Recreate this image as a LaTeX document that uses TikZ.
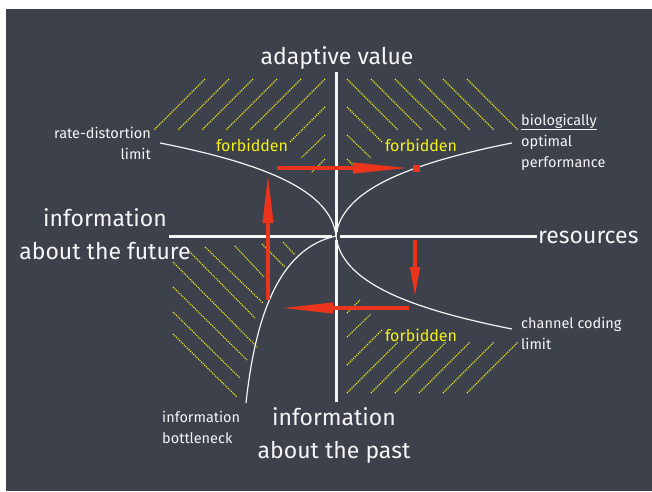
\documentclass[tikz,border=0pt]{standalone}
\usepackage{fontspec}
\setmainfont{Fira Sans}
\usetikzlibrary{arrows.meta}

\definecolor{lavagna}{RGB}{60,65,76}
\definecolor{gesso}{RGB}{245,245,245}
\definecolor{giallo}{RGB}{245,240,20}
\definecolor{rosso}{RGB}{236,52,28}

\tikzset{
  asse/.style={gesso, line width=3pt},
  curva/.style={gesso, line width=1.2pt},
  tratteggio/.style={giallo, line width=1.1pt, dash pattern=on 1.1pt off 1.1pt},
  freccia/.style={rosso, line width=4pt},
  etichetta/.style={gesso, font=\fontsize{23}{33}\selectfont, align=center, inner sep=0pt},
  nota/.style={gesso, font=\fontsize{14.5}{21}\selectfont, inner sep=0pt},
  vietato/.style={giallo, font=\fontsize{16}{18}\selectfont, inner sep=0pt},
}

\begin{document}
\begin{tikzpicture}[x=1pt, y=-1pt]
    \useasboundingbox (0,0) rectangle (652,491);
    % Lavagna
    \fill[lavagna] (6,9) rectangle (652,491);

    % Zone vietate (tratteggio giallo)
    \coordinate (centro) at (336,236);
    \foreach \sx/\sy in {1/1, -1/1, 1/-1} {
        \begin{scope}[shift={(centro)}, xscale=\sx, yscale=\sy]
            \foreach \k in {0,...,5}
                \draw[tratteggio] (11+24*\k,-157) -- (62+24*\k,-106);
            \draw[tratteggio] (11,-129) -- (46,-94);
            \draw[tratteggio] (11,-101) -- (35,-78);
            \draw[tratteggio] (11,-77) -- (24,-64);
        \end{scope}
    }
    \foreach \xa/\ya/\xb/\yb in {283/242/295/255, 262/244/285/267, 235/246/264/277,
        205/247/263/303, 188/250/255/318, 173/262/257/347, 173/287/247/360,
        173/312/240/378, 173/334/237/397}
        \draw[tratteggio] (\xa,\ya) -- (\xb,\yb);

    % Assi
    \coordinate (asseN) at (336,72);
    \coordinate (asseS) at (336,402);
    \coordinate (asseO) at (169,236);
    \coordinate (asseE) at (537,236);
    \draw[asse] (336,232) -- (asseN);
    \draw[asse] (336,240) -- (asseS);
    \draw[asse] (332,236) -- (asseO);
    \draw[asse] (340,236) -- (asseE);

    % Limiti
    \coordinate (rdfine) at (160,143);
    \coordinate (biofine) at (512,143);
    \coordinate (ccfine) at (512,329);
    \coordinate (ibfine) at (246,403);
    \draw[curva] (centro) .. controls (331,191) and (266,164) .. (rdfine);
    \draw[curva] (centro) .. controls (341,191) and (406,164) .. (biofine);
    \draw[curva] (centro) .. controls (341,281) and (406,308) .. (ccfine);
    \draw[curva] (centro) .. controls (291,246) and (258,291) .. (ibfine);

    % Frecce rosse
    \coordinate (f1a) at (277,168);  \coordinate (f1b) at (410,168);
    \coordinate (f2a) at (268,300);  \coordinate (f2b) at (268,173);
    \coordinate (f3a) at (415,240);  \coordinate (f3b) at (415,298);
    \coordinate (f4a) at (409,308);  \coordinate (f4b) at (280,308);
    \draw[freccia, -{Triangle[length=57pt,width=10pt]}] (f1a) -- (f1b);
    \draw[freccia, -{Triangle[length=50pt,width=10pt]}] (f2a) -- (f2b);
    \draw[freccia, -{Triangle[length=31pt,width=9pt]}] (f3a) -- (f3b);
    \draw[freccia, -{Triangle[length=53pt,width=10pt]}] (f4a) -- (f4b);
    \fill[rosso] (412.5,164.5) rectangle (419.5,171.5); % punto ottimale

    % Testi
    \node[etichetta] (valore) at (337,58) {adaptive value};
    \node[etichetta, anchor=west] (risorse) at (538,237) {resources};
    \node[etichetta] (futuro) at (105,234) {information\\about the future};
    \node[etichetta] (passato) at (334,435) {information\\about the past};
    \node[nota, align=right, anchor=east] (rd) at (151,143) {rate-distortion\\limit};
    \node[nota, align=left, anchor=west] (bio) at (521,142) {\underline{biologically}\\optimal\\performance};
    \node[nota, align=left, anchor=west] (cc) at (521,333) {channel coding\\limit};
    \node[nota, align=left, anchor=west] (ib) at (162,427) {information\\bottleneck};
    \node[vietato] (v1) at (252,145) {forbidden};
    \node[vietato] (v2) at (421,145) {forbidden};
    \node[vietato] (v3) at (421,335) {forbidden};
\end{tikzpicture}
\end{document}
